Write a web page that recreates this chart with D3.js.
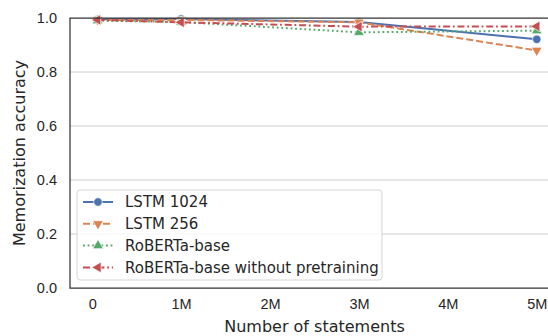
<!DOCTYPE html>
<html>
<head>
<meta charset="utf-8">
<script src="https://cdn.jsdelivr.net/npm/d3@7"></script>
<style>
  html, body { margin: 0; padding: 0; background: #fff; }
  svg { display: block; font-family: "DejaVu Sans", sans-serif; }
</style>
</head>
<body>
<div id="chart"></div>
<script>
// statements seen (x) and accuracy per model
const statements = [60000, 1000000, 3000000, 5000000];
const lstm1024 = [0.995, 0.996, 0.985, 0.921];
const lstm256 = [0.993, 0.993, 0.984, 0.880];
const roberta = [0.990, 0.985, 0.947, 0.953];
const robertaScratch = [0.993, 0.984, 0.968, 0.969];

const xTicks = [0, 1000000, 2000000, 3000000, 4000000, 5000000];
const xTickLabels = ["0", "1M", "2M", "3M", "4M", "5M"];
const yTicks = [0, 0.2, 0.4, 0.6, 0.8, 1.0];

const series = [
  { name: "LSTM 1024", values: lstm1024, color: "#4C72B0", dash: null, marker: "circle" },
  { name: "LSTM 256", values: lstm256, color: "#DD8452", dash: "7,3", marker: "down" },
  { name: "RoBERTa-base", values: roberta, color: "#55A868", dash: "1.8,2.8", marker: "up" },
  { name: "RoBERTa-base without pretraining", values: robertaScratch, color: "#C44E52", dash: "7,2.8,1.8,2.8", marker: "left" },
];

const width = 548;
const height = 336;
const margin = { top: 18, right: -11, bottom: 48, left: 70 };

const svg = d3.select("#chart")
  .append("svg")
  .attr("width", width)
  .attr("height", height);

const x = d3.scaleLinear()
  .domain([-250000, 5250000])
  .range([margin.left, width - margin.right]);

const y = d3.scaleLinear()
  .domain([0, 1])
  .range([height - margin.bottom, margin.top]);

// horizontal grid
svg.append("g")
  .selectAll("line")
  .data(yTicks.slice(1, -1))
  .join("line")
  .attr("x1", margin.left)
  .attr("x2", width)
  .attr("y1", (d) => y(d))
  .attr("y2", (d) => y(d))
  .attr("stroke", "#cccccc")
  .attr("stroke-width", 1);

// tick labels
const yAxis = d3.axisLeft(y).tickValues(yTicks).tickFormat(d3.format(".1f")).tickSize(0).tickPadding(13);
const gy = svg.append("g").attr("transform", `translate(${margin.left},0)`).call(yAxis);
gy.select(".domain").remove();
gy.selectAll("text").style("font-size", "14.5px").attr("fill", "#262626");

const xAxis = d3.axisBottom(x).tickValues(xTicks).tickFormat((d, i) => xTickLabels[i]).tickSize(0).tickPadding(11);
const gx = svg.append("g").attr("transform", `translate(0,${height - margin.bottom})`).call(xAxis);
gx.select(".domain").remove();
gx.selectAll("text").style("font-size", "14.5px").attr("fill", "#262626");

// lines + markers
const line = d3.line()
  .x((d, i) => x(statements[i]))
  .y((d) => y(d));

const symbolFor = (m) => {
  if (m === "circle") return d3.symbol(d3.symbolCircle, 56)();
  return d3.symbol(d3.symbolTriangle, 50)();
};
const rotFor = (m) => (m === "down" ? 180 : m === "left" ? -90 : 0);

const plot = svg.append("g");
series.forEach((s) => {
  plot.append("path")
    .datum(s.values)
    .attr("fill", "none")
    .attr("stroke", s.color)
    .attr("stroke-width", 2)
    .attr("stroke-dasharray", s.dash)
    .attr("d", line);

  plot.selectAll(null)
    .data(s.values)
    .join("path")
    .attr("d", symbolFor(s.marker))
    .attr("transform", (d, i) => `translate(${x(statements[i])},${y(d)}) rotate(${rotFor(s.marker)})`)
    .attr("fill", s.color)
    .attr("stroke", "#fff")
    .attr("stroke-width", 0.7);
});

// spines
const x0 = margin.left, y0 = margin.top, y1 = height - margin.bottom;
svg.append("path")
  .attr("d", `M${width},${y0}H${x0}V${y1}H${width}`)
  .attr("fill", "none")
  .attr("stroke", "#333333")
  .attr("stroke-width", 1.25);

// axis titles
svg.append("text")
  .attr("x", (margin.left + 559) / 2)
  .attr("y", 332)
  .attr("text-anchor", "middle")
  .style("font-size", "16px")
  .attr("fill", "#262626")
  .text("Number of statements");

svg.append("text")
  .attr("transform", `translate(25,${(y0 + y1) / 2}) rotate(-90)`)
  .attr("text-anchor", "middle")
  .style("font-size", "16px")
  .attr("fill", "#262626")
  .text("Memorization accuracy");

// legend
const legend = svg.append("g").attr("transform", "translate(77,190)");
legend.append("rect")
  .attr("width", 305)
  .attr("height", 90)
  .attr("rx", 3)
  .attr("fill", "#fff")
  .attr("fill-opacity", 0.8)
  .attr("stroke", "#d6d6d6")
  .attr("stroke-width", 1);

series.forEach((s, i) => {
  const row = legend.append("g").attr("transform", `translate(0,${12 + i * 21.8})`);
  row.append("line")
    .attr("x1", 6).attr("x2", 36)
    .attr("stroke", s.color)
    .attr("stroke-width", 2)
    .attr("stroke-dasharray", s.dash);
  row.append("path")
    .attr("d", symbolFor(s.marker))
    .attr("transform", `translate(21,0) rotate(${rotFor(s.marker)})`)
    .attr("fill", s.color)
    .attr("stroke", "#fff")
    .attr("stroke-width", 0.7);
  row.append("text")
    .attr("x", 48)
    .attr("dy", "0.35em")
    .style("font-size", "15px")
    .attr("fill", "#262626")
    .text(s.name);
});
</script>
</body>
</html>
